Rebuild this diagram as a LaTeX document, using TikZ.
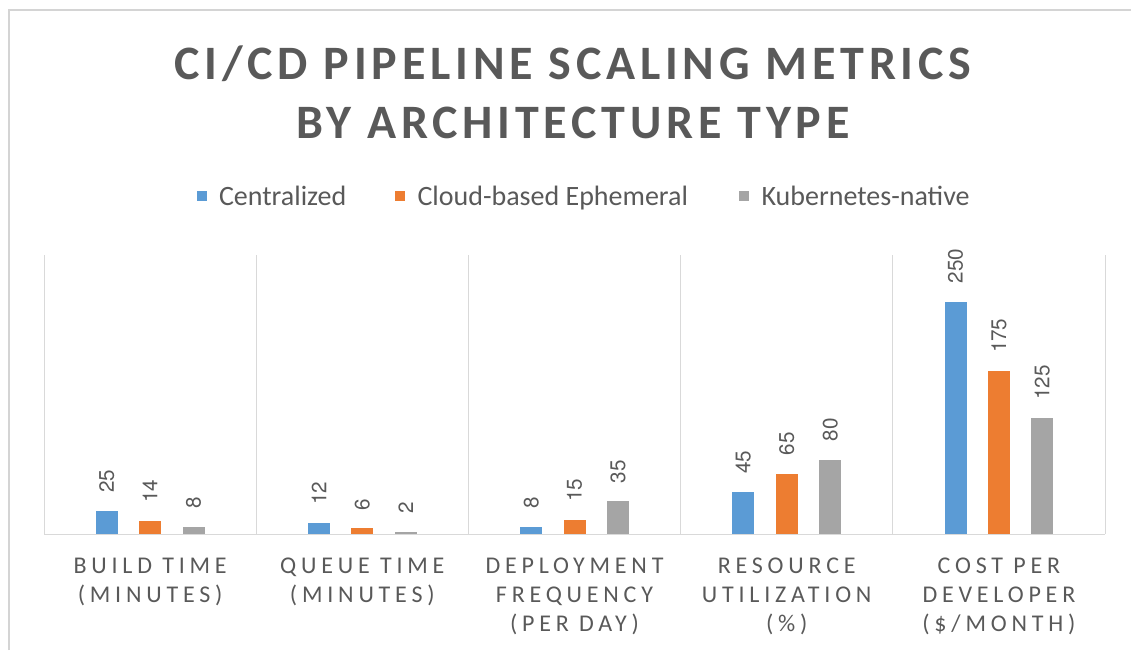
\documentclass[tikz,border=0pt]{standalone}
\usepackage{fontspec}
\setmainfont{Carlito}
\newfontfamily\titlefont{Carlito}[LetterSpace=10]
\newfontfamily\catfont{Carlito}[LetterSpace=20]
\newcommand\valfont{\fontencoding{T1}\fontfamily{phv}\fontsize{15.5}{18}\selectfont}
\usetikzlibrary{positioning}
\definecolor{txtgray}{HTML}{595959}
\definecolor{gridgray}{HTML}{D9D9D9}
\definecolor{framegray}{HTML}{D4D4D4}
\definecolor{cblue}{HTML}{5B9BD5}
\definecolor{corange}{HTML}{ED7D31}
\definecolor{cgray}{HTML}{A5A5A5}
\tikzset{
  titletext/.style={inner sep=0, text=txtgray, font=\titlefont\bfseries\fontsize{36}{44}\selectfont},
  legbox/.style={inner sep=0, minimum size=7.5pt},
  legtext/.style={inner sep=0, text=txtgray, text height=13.7pt, text depth=0pt, font=\fontsize{21}{25}\selectfont},
  catlabel/.style={inner sep=0, anchor=north, align=center, text=txtgray, font=\catfont\fontsize{18}{21.75}\selectfont},
  vallabel/.style={inner sep=0, anchor=west, rotate=90, text=txtgray, font=\valfont},
  gridline/.style={gridgray, line width=0.75pt}
}
\begin{document}
\begin{tikzpicture}[x=0.75pt, y=0.75pt]
  \useasboundingbox (0,0) rectangle (1131,-650);
  \draw[framegray, line width=1.5pt] (9,-650) -- (9,-10) -- (1131,-10);

  \node (title1) [titletext, anchor=base] at (573,-79.5) {CI/CD PIPELINE SCALING METRICS};
  \node (title2) [titletext, anchor=base] at (573,-138.5) {BY ARCHITECTURE TYPE};

  \node (legA) [legbox, fill=cblue] at (201.5,-196) {};
  \node (legAtext) [legtext, right=9pt of legA] {Centralized};
  \node (legB) [legbox, fill=corange] at (400,-196) {};
  \node (legBtext) [legtext, right=9pt of legB] {Cloud-based Ephemeral};
  \node (legC) [legbox, fill=cgray] at (744,-196) {};
  \node (legCtext) [legtext, right=9pt of legC] {Kubernetes-native};

  \draw[gridline] (44,-534) -- (1105,-534);
  \foreach \i in {0,...,5}
    \draw[gridline] (44+212.2*\i,-255) -- (44+212.2*\i,-534);

  \foreach \a/\b/\c [count=\i from 0] in {25/14/8, 12/6/2, 8/15/35, 45/65/80, 250/175/125} {
    \pgfmathsetmacro\mid{150.1+212.2*\i}
    \fill[cblue] (\mid-54.4,-534) rectangle (\mid-32.4,-534+0.93*\a);
    \fill[corange] (\mid-11,-534) rectangle (\mid+11,-534+0.93*\b);
    \fill[cgray] (\mid+32.4,-534) rectangle (\mid+54.4,-534+0.93*\c);
    \node (valA\i) [vallabel] at (\mid-43.4,-534+0.93*\a+18) {\a};
    \node (valB\i) [vallabel] at (\mid,-534+0.93*\b+18) {\b};
    \node (valC\i) [vallabel] at (\mid+43.4,-534+0.93*\c+18) {\c};
  }

  \node (cat1) [catlabel] at (150.1,-557.5) {BUILD TIME\\(MINUTES)};
  \node (cat2) [catlabel] at (362.3,-557.5) {QUEUE TIME\\(MINUTES)};
  \node (cat3) [catlabel] at (574.5,-557.5) {DEPLOYMENT\\FREQUENCY\\(PER DAY)};
  \node (cat4) [catlabel] at (786.7,-557.5) {RESOURCE\\UTILIZATION\\(\%)};
  \node (cat5) [catlabel] at (998.9,-557.5) {COST PER\\DEVELOPER\\(\$/MONTH)};
\end{tikzpicture}
\end{document}
